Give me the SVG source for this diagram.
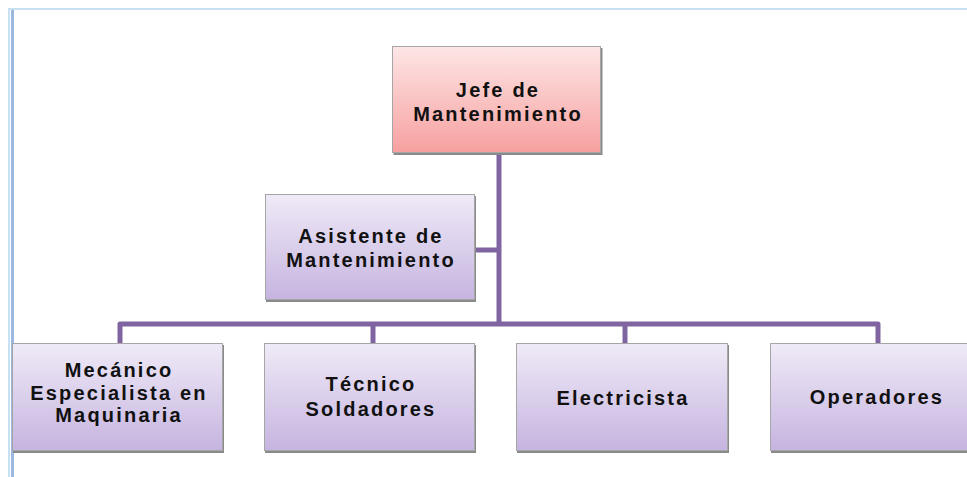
<svg xmlns="http://www.w3.org/2000/svg" width="967" height="477" viewBox="0 0 967 477">
<defs>
<linearGradient id="gPurple" x1="0" y1="0" x2="0" y2="1">
<stop offset="0" stop-color="#efeaf7"/>
<stop offset="1" stop-color="#c6b4e0"/>
</linearGradient>
<linearGradient id="gPink" x1="0" y1="0" x2="0" y2="1">
<stop offset="0" stop-color="#fde6e6"/>
<stop offset="1" stop-color="#f7a0a0"/>
</linearGradient>
<style>
.shadow{fill:#8a8a8a;}
.box{stroke:#a6a6a6;stroke-width:1;}
.p{fill:url(#gPurple);}
.r{fill:url(#gPink);}
.lbl{font-family:"Liberation Sans",Arial,sans-serif;font-size:20px;font-weight:bold;letter-spacing:2.2px;fill:#111;text-anchor:middle;}
.conn{fill:none;stroke:#8064a2;stroke-width:5;stroke-linejoin:round;}
</style>
</defs>
<rect width="967" height="477" fill="#ffffff"/>
<g id="frame">
<rect x="8" y="8" width="959" height="2" fill="#c6e2f2"/>
<rect x="8" y="8" width="2" height="469" fill="#c6e2f2"/>
<rect x="11" y="10" width="3" height="467" fill="#9cb8e0"/>
</g>
<g id="connectors">
<path class="conn" d="M499 153 V324"/>
<path class="conn" d="M475 250 H499"/>
<path class="conn" d="M120 343 V324 H878 V343"/>
<path class="conn" d="M373 324 V343"/>
<path class="conn" d="M625 324 V343"/>
</g>
<g id="jefe">
<rect class="shadow" x="393.5" y="48" width="209" height="107"/>
<rect class="box r" x="392.5" y="46.5" width="208" height="106"/>
<text class="lbl" x="498" y="97">Jefe de</text>
<text class="lbl" x="498" y="121">Mantenimiento</text>
</g>
<g id="asistente">
<rect class="shadow" x="266" y="196" width="210" height="106"/>
<rect class="box p" x="265.5" y="194.5" width="209" height="105"/>
<text class="lbl" x="371" y="243">Asistente de</text>
<text class="lbl" x="371" y="267">Mantenimiento</text>
</g>
<g id="mecanico">
<rect class="shadow" x="13" y="345" width="211" height="108"/>
<rect class="box p" x="12.5" y="343.5" width="210" height="107"/>
<text class="lbl" x="119" y="377">Mecánico</text>
<text class="lbl" x="119" y="400">Especialista en</text>
<text class="lbl" x="119" y="422">Maquinaria</text>
</g>
<g id="tecnico">
<rect class="shadow" x="265" y="345" width="211" height="108"/>
<rect class="box p" x="264.5" y="343.5" width="210" height="107"/>
<text class="lbl" x="371" y="391">Técnico</text>
<text class="lbl" x="371" y="416">Soldadores</text>
</g>
<g id="electricista">
<rect class="shadow" x="517" y="345" width="212" height="108"/>
<rect class="box p" x="516.5" y="343.5" width="211" height="107"/>
<text class="lbl" x="623" y="405">Electricista</text>
</g>
<g id="operadores">
<rect class="shadow" x="771" y="345" width="211" height="108"/>
<rect class="box p" x="770.5" y="343.5" width="210" height="107"/>
<text class="lbl" x="877" y="404">Operadores</text>
</g>
</svg>
